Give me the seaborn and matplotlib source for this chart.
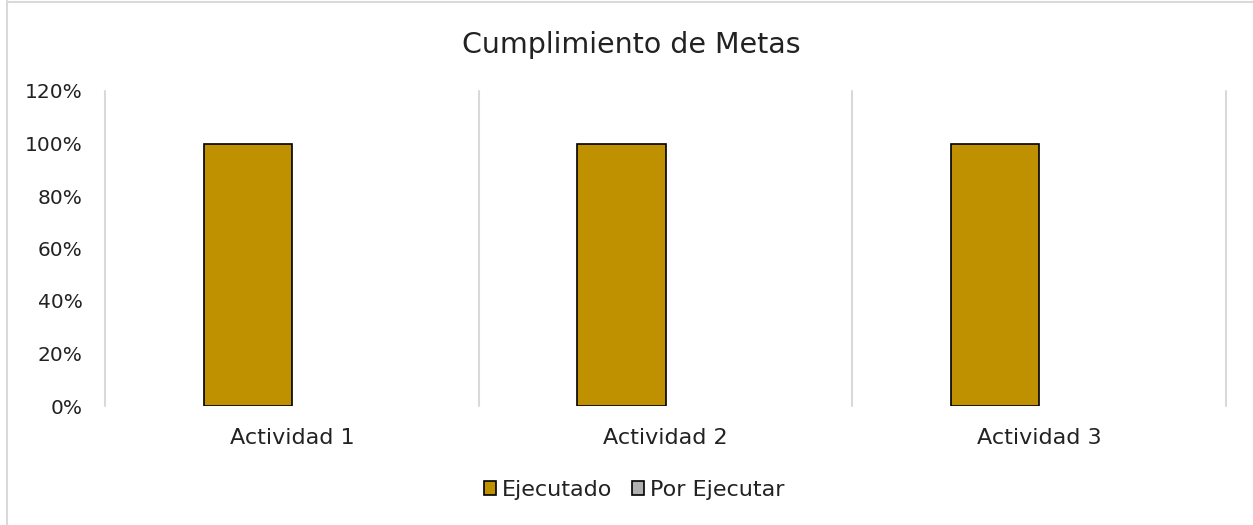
import pandas as pd
import seaborn as sns
import matplotlib.pyplot as plt
from matplotlib.patches import Patch
from matplotlib.ticker import PercentFormatter

# Datos del gráfico
actividades = ['Actividad 1', 'Actividad 2', 'Actividad 3']
ejecutado = [1.0, 1.0, 1.0]
por_ejecutar = [0.0, 0.0, 0.0]
series = ['Ejecutado', 'Por Ejecutar']
colores = ['#BF9000', '#B0B0B0']

df = pd.DataFrame({
    'Actividad': actividades * 2,
    'Valor': ejecutado + por_ejecutar,
    'Serie': [series[0]] * 3 + [series[1]] * 3,
})

sns.set_theme(style='white')
plt.rcParams['font.family'] = ['DejaVu Sans']

fig = plt.figure(figsize=(12.53, 5.25), dpi=100)
ax = fig.add_axes([105 / 1253, 1 - 406 / 525, (1226 - 105) / 1253, (406 - 91) / 525])

sns.barplot(data=df, x='Actividad', y='Valor', hue='Serie', palette=colores,
            saturation=1, width=0.472, edgecolor='black', linewidth=1.2,
            legend=False, ax=ax)

# Barras en cero no se dibujan (como en Excel)
for p in ax.patches:
    if p.get_height() == 0:
        p.set_visible(False)

ax.set_xlim(-0.5, 2.5)
ax.set_ylim(0, 1.2)
ax.set_yticks([0, 0.2, 0.4, 0.6, 0.8, 1.0, 1.2])
ax.yaxis.set_major_formatter(PercentFormatter(xmax=1, decimals=0))
ax.set_xlabel('')
ax.set_ylabel('')
ax.tick_params(axis='y', length=0, pad=16, labelsize=14.5, labelcolor='#222222')
ax.tick_params(axis='x', length=0, pad=16, labelsize=16, labelcolor='#222222')

for s in ax.spines.values():
    s.set_visible(False)

# Líneas verticales separando categorías
for xv in [-0.5, 0.5, 1.5, 2.5]:
    ax.axvline(xv, color='#D9D9D9', linewidth=1.5, zorder=0, clip_on=False)

fig.text(0.5036, 1 - 45 / 525, 'Cumplimiento de Metas', ha='center', va='center',
         fontsize=20.5, color='#222222')

handles = [Patch(facecolor=c, edgecolor='black', linewidth=1.2) for c in colores]
fig.legend(handles, series, loc='center', bbox_to_anchor=(0.506, 1 - 490 / 525), ncol=2,
           frameon=False, fontsize=16, handlelength=0.55, handleheight=0.55,
           handletextpad=0.25, columnspacing=0.9, labelcolor='#222222')

# Borde del área del gráfico
fig.add_artist(plt.Line2D([7 / 1253, 7 / 1253], [0, 1 - 1 / 525], color='#D9D9D9', linewidth=1.5))
fig.add_artist(plt.Line2D([7 / 1253, 1], [1 - 2 / 525, 1 - 2 / 525], color='#D9D9D9', linewidth=1.5))

fig.savefig('out.png', dpi=100)
